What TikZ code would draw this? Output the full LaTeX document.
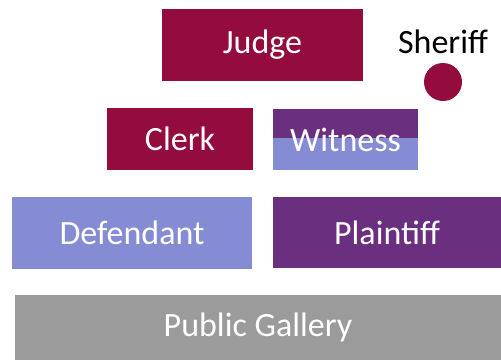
\documentclass[tikz,border=0pt]{standalone}
\usepackage{fontspec}
\setmainfont{Carlito}
\usetikzlibrary{positioning}
\definecolor{crimson}{HTML}{940B3E}
\definecolor{plum}{HTML}{6B2F7F}
\definecolor{lavender}{HTML}{858CD3}
\definecolor{gallerygrey}{HTML}{9B9B9B}
\tikzset{seat/.style={shape=rectangle, draw=none, inner sep=0pt, text=white,
    font=\fontsize{34}{40}\selectfont}}
\tikzset{every node/.style={font=\fontsize{34}{40}\selectfont}}

\begin{document}
\begin{tikzpicture}[x=1pt, y=-1pt]
    \useasboundingbox (0,0) rectangle (501,360);

    %%%% Bench
    \node[seat, fill=crimson, minimum width=201pt, minimum height=72pt](judge) at (262.5,45) {Judge};
    \node(sheriff) at (443,42) {Sheriff};
    \fill[crimson] (443,82) circle (19);

    %%%% Middle row
    \node[seat, fill=crimson, minimum width=146pt, minimum height=62pt](clerk) at (180,139) {Clerk};
    \node[seat, fill=lavender, minimum width=145pt, minimum height=61pt,
      path picture={\fill[plum] (path picture bounding box.north west) rectangle ([yshift=1.5pt]path picture bounding box.east);}]
      (witness) at (345.5,139.5) {Witness};

    %%%% Parties
    \node[seat, fill=lavender, minimum width=240pt, minimum height=72pt](defendant) at (132,233) {Defendant};
    \node[seat, fill=plum, minimum width=228pt, minimum height=71pt](plaintiff) at (387,232.5) {Plaintiff};

    %%%% Gallery
    \node[seat, fill=gallerygrey, minimum width=486pt, minimum height=65pt](gallery) at (258,327.5) {Public Gallery};

\end{tikzpicture}
\end{document}
